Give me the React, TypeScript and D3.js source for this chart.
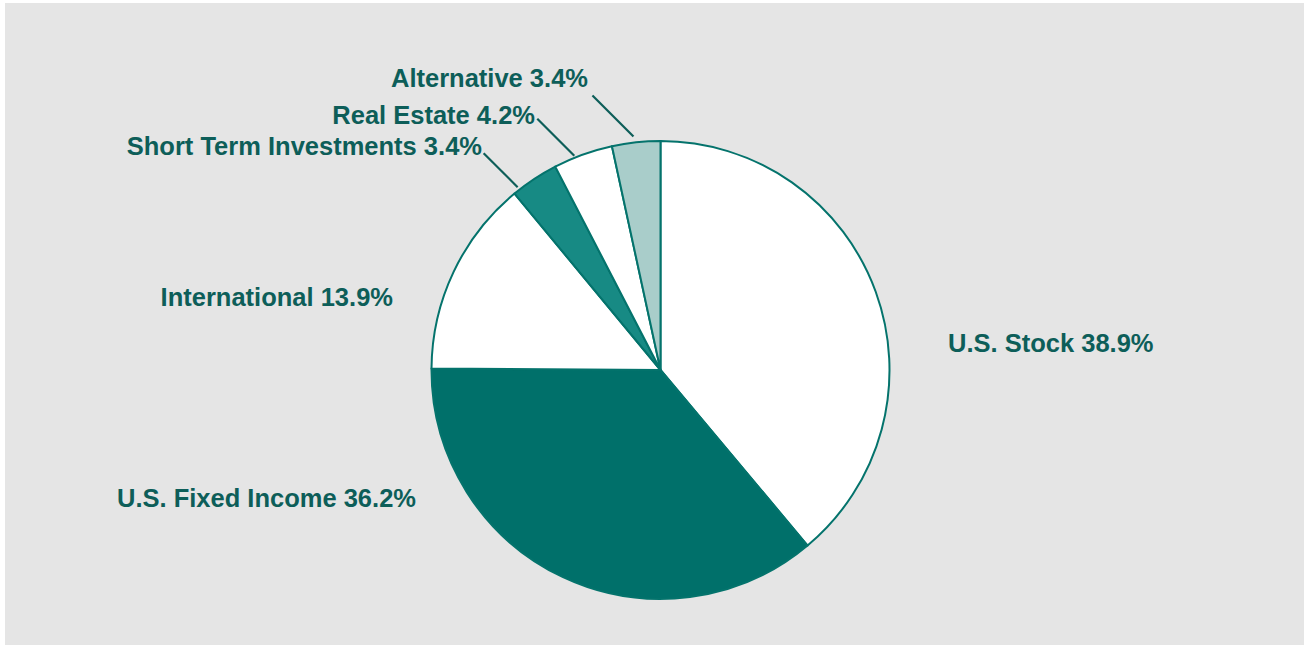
import React from "react";
import * as d3 from "d3";

const categories = [
  "U.S. Stock",
  "U.S. Fixed Income",
  "International",
  "Short Term Investments",
  "Real Estate",
  "Alternative",
];
const values = [38.9, 36.2, 13.9, 3.4, 4.2, 3.4];
const fills = ["#FFFFFF", "#00706A", "#FFFFFF", "#178A84", "#FFFFFF", "#A9CDCA"];

// label layout: anchor point, text-anchor, and optional leader (fraction within slice, length)
const labelLayout = [
  { x: 948, y: 352, anchor: "start", leader: null },
  { x: 416, y: 507, anchor: "end", leader: null },
  { x: 393, y: 306, anchor: "end", leader: null },
  { x: 482, y: 155, anchor: "end", leader: { t: 0.13, len: 34, rr: 3 } },
  { x: 535, y: 124, anchor: "end", leader: { t: 0.36, len: 37, rr: 2 } },
  { x: 588, y: 87, anchor: "end", leader: { t: 0.46, len: 41, rr: 6 } },
];

const W = 1304;
const H = 645;
const cx = 660.5;
const cy = 370;
const R = 229;
const TEXT = "#0D5E59";
const STROKE = "#04736C";

export default function App() {
  const pie = d3
    .pie<number>()
    .sort(null)
    .value((d) => d);
  const arcs = pie(values);
  const arc = d3.arc<d3.PieArcDatum<number>>().innerRadius(0).outerRadius(R);

  return (
    <svg
      width={W}
      height={H}
      style={{ position: "absolute", left: 0, top: 0, display: "block" }}
      fontFamily="'Liberation Sans', Arial, Helvetica, sans-serif"
    >
      <rect x={5} y={3} width={W - 5} height={H - 3} fill="#E5E5E5" />
      <g transform={`translate(${cx},${cy})`}>
        {arcs.map((a, i) => (
          <path
            key={categories[i]}
            d={arc(a) || ""}
            fill={fills[i]}
            stroke={STROKE}
            strokeWidth={2}
            strokeLinejoin="round"
          />
        ))}
      </g>
      {arcs.map((a, i) => {
        const L = labelLayout[i];
        const lbl = `${categories[i]} ${values[i].toFixed(1)}%`;
        let leader = null;
        if (L.leader) {
          const ang = a.startAngle + (a.endAngle - a.startAngle) * L.leader.t;
          const rr = R + L.leader.rr;
          const ex = cx + rr * Math.sin(ang);
          const ey = cy - rr * Math.cos(ang);
          const sx = ex - L.leader.len;
          const sy = ey - L.leader.len;
          leader = (
            <line x1={sx} y1={sy} x2={ex} y2={ey} stroke={TEXT} strokeWidth={2.2} />
          );
        }
        return (
          <g key={"l" + i}>
            {leader}
            <text
              x={L.x}
              y={L.y}
              textAnchor={L.anchor as any}
              fill={TEXT}
              fontSize={25.5}
              fontWeight="bold"
            >
              {lbl}
            </text>
          </g>
        );
      })}
    </svg>
  );
}
